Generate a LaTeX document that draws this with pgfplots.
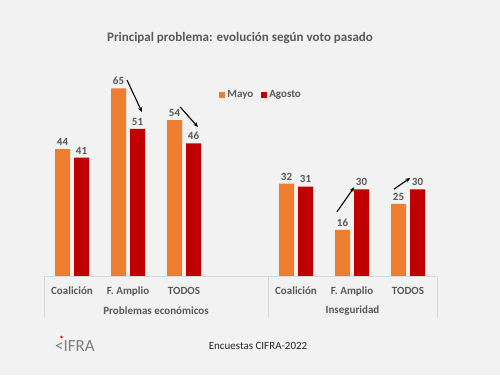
\documentclass[border=0pt]{standalone}
\usepackage{fontspec}
\setmainfont{Carlito}
\usepackage{pgfplots}
\pgfplotsset{compat=1.18}
\usetikzlibrary{arrows.meta}
\definecolor{bg}{HTML}{F2F2F2}
\definecolor{txt}{HTML}{595959}
\definecolor{mayo}{HTML}{ED7D31}
\definecolor{agosto}{HTML}{C00000}
\definecolor{linec}{HTML}{D9D9D9}
\begin{document}
\begin{tikzpicture}[x=1pt,y=1pt]
\fill[bg] (0,0) rectangle (500,375);
\node[font=\bfseries\fontsize{13}{15}\selectfont, text=txt] at (240,337) {Principal problema: evolución según voto pasado};
\begin{axis}[
  at={(44pt,99pt)}, anchor=south west,
  scale only axis, width=392pt, height=202pt,
  xmin=-0.5, xmax=6.5, ymin=0, ymax=70,
  axis line style={draw=none},
  ytick=\empty,
  xtick={0,1,2,4,5,6},
  xticklabels={Coalición,F. Amplio,TODOS,Coalición,F. Amplio,TODOS},
  major tick length=0pt,
  xticklabel style={font=\bfseries\fontsize{11}{13}\selectfont, text=txt, anchor=base, yshift=-18.5pt},
  /pgf/number format/assume math mode=true,
  clip=false,
  ybar, bar width=15pt,
  nodes near coords,
  nodes near coords style={font=\bfseries\fontsize{11}{13}\selectfont, text=txt},
  legend columns=2,
  legend style={at={(0.554,0.896)}, anchor=center, draw=none, fill=none,
    font=\bfseries\fontsize{11}{13}\selectfont, text=txt,
    /tikz/every even column/.append style={column sep=6pt}},
  legend image code/.code={\fill[#1] (0pt,-3pt) rectangle (6pt,3pt);},
]
\addplot[fill=mayo, draw=none, bar shift=-9.5pt] coordinates {(0,44) (1,65) (2,54) (4,32) (5,16) (6,25)};
\addplot[fill=agosto, draw=none, bar shift=9.5pt] coordinates {(0,41) (1,51) (2,46) (4,31) (5,30) (6,30)};
\legend{Mayo, Agosto}
\draw[-{Stealth[length=5pt,width=4pt]}, line width=1.1pt] (axis cs:0.982,67.9) -- (axis cs:1.25,56.8);
\draw[-{Stealth[length=5pt,width=4pt]}, line width=1.1pt] (axis cs:1.93,58.6) -- (axis cs:2.25,51.6);
\draw[-{Stealth[length=5pt,width=4pt]}, line width=1.1pt] (axis cs:4.73,22.2) -- (axis cs:5.04,30.8);
\draw[-{Stealth[length=5pt,width=4pt]}, line width=1.1pt] (axis cs:5.75,30.1) -- (axis cs:6.04,34.0);
\end{axis}
\draw[linec, line width=0.75pt] (44,98.5) -- (437,98.5);
\draw[linec, line width=0.75pt] (44,98.5) -- (44,57);
\draw[linec, line width=0.75pt] (268,98.5) -- (268,57);
\draw[linec, line width=0.75pt] (437,98.5) -- (437,57);
\node[font=\bfseries\fontsize{11}{13}\selectfont, text=txt] at (156,64) {Problemas económicos};
\node[font=\bfseries\fontsize{11}{13}\selectfont, text=txt] at (352.5,64) {Inseguridad};
\node[font=\fontsize{11}{13}\selectfont, text=black!85] at (258,29) {Encuestas CIFRA-2022};
\node[font=\fontsize{17}{19}\selectfont, text=black!50] at (75,29) {\textless IFRA};
\fill[red] (61.5,38) circle (1.3);
\end{tikzpicture}
\end{document}
